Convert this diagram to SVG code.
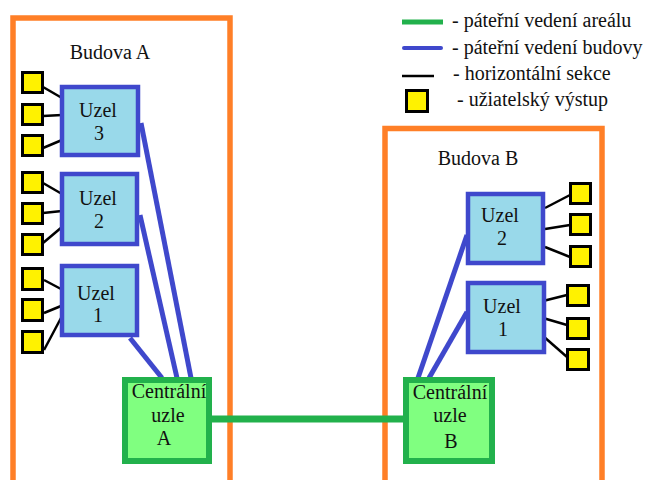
<svg xmlns="http://www.w3.org/2000/svg" width="648" height="480" viewBox="0 0 648 480">
<style>
text{font-family:"Liberation Serif","Times New Roman",serif;font-size:20px;fill:#111}
.bld{fill:none;stroke:#FF7F27;stroke-width:5.5}
.uzel{fill:#99D9EA;stroke:#3F48CC;stroke-width:4.5}
.cen{fill:#80FF80;stroke:#22B14C;stroke-width:6}
.out{fill:#FFF200;stroke:#000;stroke-width:3}
.h{stroke:#000;stroke-width:2.5;fill:none}
.b{stroke:#3F48CC;stroke-width:5;fill:none}
.g{stroke:#22B14C;stroke-width:7;fill:none}
</style>
<rect width="648" height="480" fill="#fff"/>
<g id="budova-a">
<rect class="bld" x="13" y="18" width="217" height="480"/>
<text x="110" y="59" text-anchor="middle">Budova A</text>
</g>
<g id="budova-b">
<rect class="bld" x="385" y="128.5" width="217" height="370"/>
<text x="478" y="165" text-anchor="middle">Budova B</text>
</g>
<g id="legend">
<line x1="402" y1="22" x2="443" y2="22" stroke="#22B14C" stroke-width="5"/>
<text x="452" y="27">- páteřní vedení areálu</text>
<line x1="404" y1="48" x2="441" y2="48" stroke="#3F48CC" stroke-width="4" stroke-linecap="round"/>
<text x="452" y="54">- páteřní vedení budovy</text>
<line x1="402" y1="76" x2="434" y2="76" stroke="#000" stroke-width="2.5"/>
<text x="453" y="80">- horizontální sekce</text>
<rect class="out" x="406.5" y="90.5" width="21" height="21" stroke-width="3.5"/>
<text x="457" y="106">- užiatelský výstup</text>
</g>
<g id="connectors">
<line class="g" x1="212" y1="419" x2="405" y2="419"/>
<line class="b" x1="141" y1="123" x2="191" y2="378"/>
<line class="b" x1="140" y1="215" x2="177" y2="378"/>
<line class="b" x1="130" y1="338" x2="162" y2="378"/>
<line class="b" x1="418" y1="378" x2="467" y2="235"/>
<line class="b" x1="429" y1="378" x2="467" y2="312"/>
<line class="h" x1="43" y1="87" x2="62" y2="98"/>
<line class="h" x1="43" y1="116" x2="62" y2="115"/>
<line class="h" x1="43" y1="148" x2="62" y2="140"/>
<line class="h" x1="43" y1="183" x2="62" y2="194"/>
<line class="h" x1="43" y1="213" x2="62" y2="211"/>
<line class="h" x1="43" y1="243" x2="62" y2="227"/>
<line class="h" x1="44" y1="280" x2="61" y2="289"/>
<line class="h" x1="44" y1="313" x2="61" y2="306"/>
<line class="h" x1="44" y1="350" x2="61" y2="318"/>
<line class="h" x1="545" y1="208" x2="570" y2="195"/>
<line class="h" x1="545" y1="229" x2="570" y2="225"/>
<line class="h" x1="545" y1="247" x2="570" y2="257"/>
<line class="h" x1="543" y1="301" x2="567" y2="295"/>
<line class="h" x1="543" y1="318" x2="567" y2="325"/>
<line class="h" x1="543" y1="336" x2="567" y2="357"/>
</g>
<g id="uzel-a3">
<rect class="uzel" x="62" y="87" width="76" height="68"/>
<text x="98" y="117" text-anchor="middle">Uzel</text>
<text x="99" y="140" text-anchor="middle">3</text>
</g>
<g id="uzel-a2">
<rect class="uzel" x="62" y="174" width="75" height="70"/>
<text x="98" y="205" text-anchor="middle">Uzel</text>
<text x="99" y="228" text-anchor="middle">2</text>
</g>
<g id="uzel-a1">
<rect class="uzel" x="62" y="266" width="75" height="69"/>
<text x="96" y="300" text-anchor="middle">Uzel</text>
<text x="98" y="322" text-anchor="middle">1</text>
</g>
<g id="uzel-b2">
<rect class="uzel" x="468" y="194" width="75" height="69"/>
<text x="500" y="222" text-anchor="middle">Uzel</text>
<text x="502" y="245" text-anchor="middle">2</text>
</g>
<g id="uzel-b1">
<rect class="uzel" x="468" y="283" width="76" height="69"/>
<text x="502" y="313" text-anchor="middle">Uzel</text>
<text x="503" y="336" text-anchor="middle">1</text>
</g>
<g id="central-a">
<rect class="cen" x="125" y="380" width="84" height="81"/>
<text x="169" y="398" text-anchor="middle">Centrální</text>
<text x="168" y="422" text-anchor="middle">uzle</text>
<text x="164" y="445" text-anchor="middle">A</text>
</g>
<g id="central-b">
<rect class="cen" x="406" y="380" width="86" height="81"/>
<text x="450" y="399" text-anchor="middle">Centrální</text>
<text x="450" y="422" text-anchor="middle">uzle</text>
<text x="451" y="448" text-anchor="middle">B</text>
</g>
<g id="outlets">
<rect class="out" x="22.5" y="72.5" width="20" height="20"/>
<rect class="out" x="22.5" y="104.5" width="20" height="20"/>
<rect class="out" x="22.5" y="135.5" width="20" height="20"/>
<rect class="out" x="22.5" y="172.5" width="20" height="20"/>
<rect class="out" x="22.5" y="203.5" width="20" height="20"/>
<rect class="out" x="22.5" y="234.5" width="20" height="20"/>
<rect class="out" x="22.5" y="268.5" width="20" height="21"/>
<rect class="out" x="22.5" y="299.5" width="20" height="21"/>
<rect class="out" x="22.5" y="331.5" width="20" height="21"/>
<rect class="out" x="570.5" y="183.5" width="20" height="20"/>
<rect class="out" x="570.5" y="214.5" width="20" height="20"/>
<rect class="out" x="570.5" y="246.5" width="20" height="20"/>
<rect class="out" x="567.5" y="285.5" width="21" height="20"/>
<rect class="out" x="567.5" y="318.5" width="21" height="20"/>
<rect class="out" x="567.5" y="349.5" width="21" height="20"/>
</g>
</svg>
